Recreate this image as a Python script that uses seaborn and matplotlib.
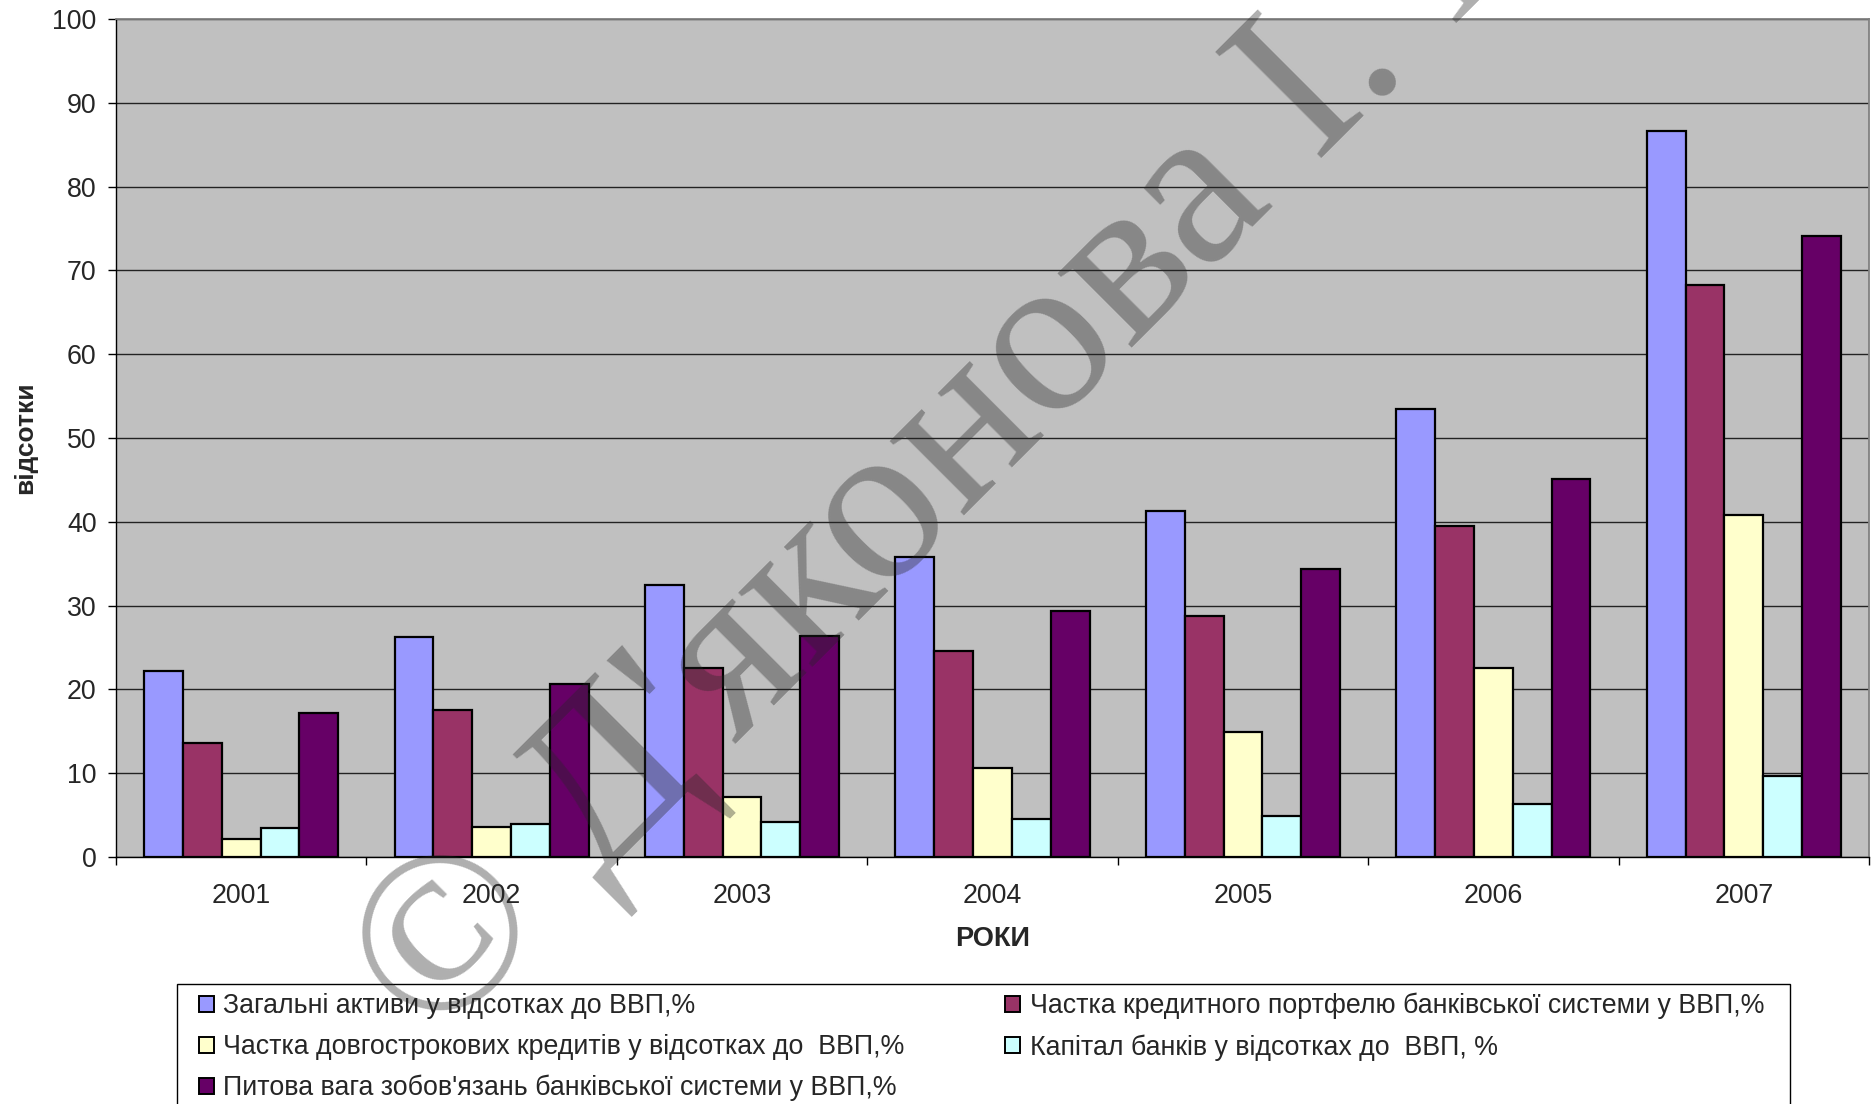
import numpy as np
import pandas as pd
import matplotlib
matplotlib.use("Agg")
import matplotlib.pyplot as plt
import seaborn as sns
from matplotlib.patches import Patch, Rectangle
from matplotlib.ticker import FixedLocator, MultipleLocator

# --- data -------------------------------------------------------------
years = ["2001", "2002", "2003", "2004", "2005", "2006", "2007"]

total_assets = [22.2, 26.2, 32.4, 35.8, 41.3, 53.5, 86.6]
loan_portfolio = [13.6, 17.5, 22.5, 24.6, 28.7, 39.5, 68.3]
long_term_loans = [2.1, 3.6, 7.2, 10.6, 14.9, 22.6, 40.8]
bank_capital = [3.5, 3.9, 4.2, 4.5, 4.9, 6.3, 9.7]
liabilities = [17.2, 20.7, 26.4, 29.4, 34.4, 45.1, 74.1]

series_names = [
    "Загальні активи у відсотках до ВВП,%",
    "Частка кредитного портфелю банківської системи у ВВП,%",
    "Частка довгострокових кредитів у відсотках до  ВВП,%",
    "Капітал банків у відсотках до  ВВП, %",
    "Питова вага зобов'язань банківської системи у ВВП,%",
]
series_values = [total_assets, loan_portfolio, long_term_loans, bank_capital, liabilities]
colors = ["#9999FF", "#993366", "#FFFFCC", "#CCFFFF", "#660066"]

df = pd.DataFrame(
    [(y, name, v) for name, vals in zip(series_names, series_values) for y, v in zip(years, vals)],
    columns=["year", "series", "value"],
)

# --- figure -----------------------------------------------------------
sns.set_style("white")
plt.rcParams["font.family"] = ["Liberation Sans", "DejaVu Sans"]

FS = 19.3
W, H = 1876, 1104
fig = plt.figure(figsize=(W / 100, H / 100), dpi=100)
ax_left, ax_right, ax_top, ax_bottom = 116, 1869, 19, 857
ax = fig.add_axes([ax_left / W, 1 - ax_bottom / H, (ax_right - ax_left) / W, (ax_bottom - ax_top) / H])
ax.set_facecolor("#C0C0C0")

sns.barplot(
    data=df, x="year", y="value", hue="series", hue_order=series_names,
    order=years, palette=colors, saturation=1, width=0.775, errorbar=None,
    edgecolor="black", linewidth=1.6, legend=False, ax=ax, zorder=3,
)

ax.set_xlim(-0.5, len(years) - 0.5)
ax.set_ylim(0, 100)
ax.yaxis.set_major_locator(MultipleLocator(10))
ax.yaxis.grid(True, color="#222222", linewidth=1.0)
ax.set_axisbelow(True)

for side in ("left", "bottom"):
    ax.spines[side].set_color("black")
    ax.spines[side].set_linewidth(1.0)
for side in ("top", "right"):
    ax.spines[side].set_color("#808080")
    ax.spines[side].set_linewidth(1.3)

ax.tick_params(axis="y", which="major", direction="out", length=6, width=1.0,
               color="black", labelsize=FS, pad=8, left=True)
ax.tick_params(axis="x", which="major", length=0, labelsize=FS, pad=19)
ax.xaxis.set_minor_locator(FixedLocator(np.arange(-0.5, len(years), 1.0)))
ax.tick_params(axis="x", which="minor", direction="out", length=6, width=1.0,
               color="black", bottom=True)

ax.set_xlabel("РОКИ", fontsize=19.5, fontweight="bold")
ax.xaxis.set_label_coords(0.5, (ax_bottom - 939) / (ax_bottom - ax_top))
ax.xaxis.label.set_va("center")
ax.set_ylabel("відсотки", fontsize=19, fontweight="bold")
ax.yaxis.set_label_coords((25 - ax_left) / (ax_right - ax_left), 0.5)
ax.yaxis.label.set_va("center")

# --- legend -----------------------------------------------------------
frame = Rectangle((177 / W, -0.05), (1790 - 177) / W, (H - 984) / H + 0.05,
                  transform=fig.transFigure, facecolor="white", edgecolor="black",
                  linewidth=1.0, zorder=1)
fig.add_artist(frame)

handles = [Patch(facecolor=c, edgecolor="black", linewidth=1.4) for c in colors]
order = [0, 2, 4, 1, 3]
fig.legend(
    [handles[i] for i in order], [series_names[i] for i in order],
    loc="upper left", bbox_to_anchor=(199 / W, 1 - 993 / H, (1764 - 199) / W, 0),
    mode="expand", ncol=2, frameon=False, borderpad=0, borderaxespad=0,
    fontsize=FS, handlelength=0.55, handleheight=0.55, handletextpad=0.35,
    labelspacing=0.55,
)

# --- watermark --------------------------------------------------------
fig.text(432 / W, 1 - 1047 / H, "© Д'яконова І. І.", rotation=45,
         rotation_mode="anchor", ha="left", va="baseline", fontsize=165,
         family=["Liberation Serif", "DejaVu Serif"], color=(0.15, 0.15, 0.15),
         alpha=0.37, zorder=10)

fig.savefig("out.png", dpi=100)
